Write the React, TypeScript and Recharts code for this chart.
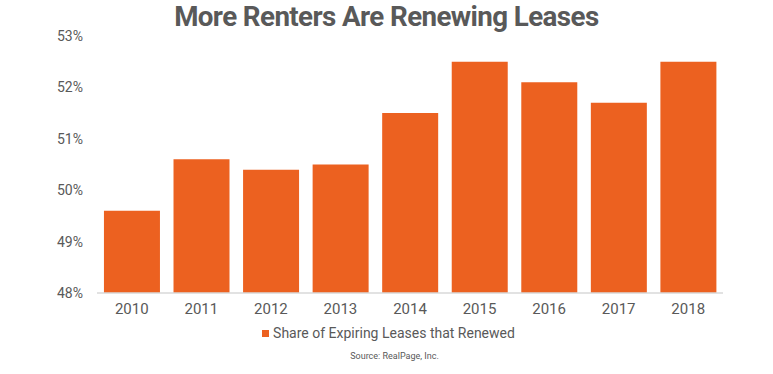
import React from "react";
import { BarChart, Bar, XAxis, YAxis } from "recharts";

const years = ["2010", "2011", "2012", "2013", "2014", "2015", "2016", "2017", "2018"];
const shareRenewed = [49.6, 50.6, 50.4, 50.5, 51.5, 52.5, 52.1, 51.7, 52.5];
const yTicks = [48, 49, 50, 51, 52, 53];

const data = years.map((y, i) => ({ year: y, value: shareRenewed[i] }));

const ORANGE = "#EC6120";
const GRAY = "#595959";
const FONT = "Roboto, 'Noto Sans', sans-serif";

export default function App() {
  return (
    <div style={{ position: "absolute", left: 0, top: 0, width: 773, height: 374, background: "#fff", fontFamily: FONT }}>
      <div
        style={{
          position: "absolute",
          left: 0,
          width: 773,
          top: -1,
          textAlign: "center",
          fontSize: 28,
          fontWeight: 700,
          color: GRAY,
          letterSpacing: -0.6,
          lineHeight: "36px",
          paddingRight: 2,
        }}
      >
        <span style={{ display: "inline-block", transform: "scaleX(0.99)" }}>More Renters Are Renewing Leases</span>
      </div>
      <BarChart
        width={773}
        height={374}
        data={data}
        margin={{ top: 36, right: 50, left: 0, bottom: 51 }}
        barCategoryGap="10%"
      >
        <XAxis
          dataKey="year"
          height={30}
          tickLine={false}
          axisLine={{ stroke: "#d9d9d9", strokeWidth: 1.5 }}
          tick={{ fill: GRAY, fontSize: 15, fontFamily: FONT }}
          tickMargin={4}
        />
        <YAxis
          width={97}
          domain={[48, 53]}
          ticks={yTicks}
          tickFormatter={(v) => `${v}%`}
          tickLine={false}
          axisLine={false}
          tick={{ fill: GRAY, fontSize: 14, fontFamily: FONT }}
          tickMargin={8}
          allowDataOverflow
        />
        <Bar dataKey="value" fill={ORANGE} isAnimationActive={false} />
      </BarChart>
      <div
        style={{
          position: "absolute",
          top: 323,
          left: 0,
          width: 773,
          textAlign: "center",
          fontSize: 14,
          color: GRAY,
          lineHeight: "20px",
          paddingLeft: 2,
        }}
      >
        <span style={{ display: "inline-block", width: 7, height: 7, background: ORANGE, marginRight: 4, verticalAlign: "middle", position: "relative", top: -1 }} />
        Share of Expiring Leases that Renewed
      </div>
      <div
        style={{
          position: "absolute",
          top: 349,
          left: 0,
          width: 773,
          textAlign: "center",
          fontSize: 9,
          color: GRAY,
          lineHeight: "14px",
          paddingLeft: 8,
        }}
      >
        Source: RealPage, Inc.
      </div>
    </div>
  );
}
